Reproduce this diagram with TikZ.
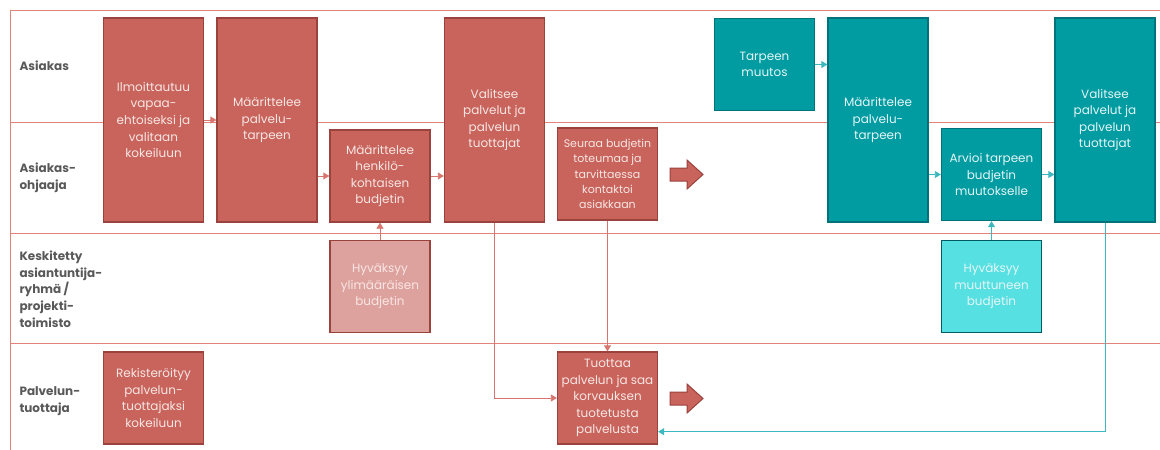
\documentclass[tikz,border=0pt]{standalone}
\usepackage{fontspec}
\setmainfont{Poppins}
\usetikzlibrary{arrows.meta, calc}

\definecolor{redfill}{HTML}{C8645C}
\definecolor{redborder}{HTML}{9C423C}
\definecolor{redline}{HTML}{D8756E}
\definecolor{lanecol}{HTML}{E2827B}
\definecolor{lightred}{HTML}{DEA29E}
\definecolor{redtext}{HTML}{F8E6E4}
\definecolor{tealfill}{HTML}{009CA2}
\definecolor{tealborder}{HTML}{00727A}
\definecolor{lightteal}{HTML}{56E0E2}
\definecolor{tealline}{HTML}{3DB8BE}
\definecolor{tealtext}{HTML}{E4F6F6}
\definecolor{labelgray}{HTML}{595959}

\tikzset{
    box/.style={line width=1.3pt, align=center, inner sep=1pt, minimum width=100,
        font=\fontsize{12}{16.6}\selectfont},
    redbox/.style={box, draw=redborder, fill=redfill, text=redtext},
    paleredbox/.style={box, draw=redborder, fill=lightred, text=redtext},
    tealbox/.style={box, draw=tealborder, fill=tealfill, text=tealtext},
    paletealbox/.style={box, draw=tealborder!80!black, fill=lightteal, text=tealtext},
    tall/.style={minimum height=204},
    short/.style={minimum height=92},
    lane/.style={draw=lanecol, line width=0.8pt},
    lanelabel/.style={anchor=west, align=left, text=labelgray,
        font=\bfseries\fontsize{12}{16.7}\selectfont},
    redarrow/.style={draw=redline, line width=0.8pt, -{Triangle[length=6pt,width=7pt]}},
    tealarrow/.style={draw=tealline, line width=0.8pt, -{Triangle[length=6pt,width=7pt]}},
    bigarrow/.style={draw=redborder, fill=redfill, line width=1pt, line join=miter}
}

\begin{document}
\begin{tikzpicture}[x=1pt,y=-1pt]

    \useasboundingbox (0,0) rectangle (1160,450);

    \draw[lane] (1160,10) -- (10,10) -- (10,450);
    \foreach \y in {122,233,343}
        \draw[lane] (10,\y) -- (1160,\y);

    \node (l1) [lanelabel] at (16,66) {Asiakas};
    \node (l2) [lanelabel] at (16,178) {Asiakas-\\ohjaaja};
    \node (l3) [lanelabel] at (16,289) {Keskitetty\\asiantuntija-\\ryhmä /\\projekti-\\toimisto};
    \node (l4) [lanelabel] at (16,401) {Palvelun-\\tuottaja};

    \node (ilmo) [redbox, tall] at (153.5,120) {Ilmoittautuu\\vapaa-\\ehtoiseksi ja\\valitaan\\kokeiluun};
    \node (maar) [redbox, tall] at (267,120) {Määrittelee\\palvelu-\\tarpeen};
    \node (henk) [redbox, short] at (380,176) {Määrittelee\\henkilö-\\kohtaisen\\budjetin};
    \node (valitse) [redbox, tall] at (494.5,120) {Valitsee\\palvelut ja\\palvelun\\tuottajat};
    \node (seuraa) [redbox, short, font=\fontsize{11}{15.2}\selectfont] at (607.5,174) {Seuraa budjetin\\toteumaa ja\\tarvittaessa\\kontaktoi\\asiakkaan};
    \node (hyvred) [paleredbox, short] at (380,286.5) {Hyväksyy\\ylimääräisen\\budjetin};
    \node (rekist) [redbox, short] at (153.5,398) {Rekisteröityy\\palvelun-\\tuottajaksi\\kokeiluun};
    \node (tuottaa) [redbox, short] at (607.5,398) {Tuottaa\\palvelun ja saa\\korvauksen\\tuotetusta\\palvelusta};

    \node (muutos) [tealbox, short] at (764.5,64.5) {Tarpeen\\muutos};
    \node (maarT) [tealbox, tall] at (878,120) {Määrittelee\\palvelu-\\tarpeen};
    \node (arvioi) [tealbox, short] at (991.5,174.5) {Arvioi tarpeen\\budjetin\\muutokselle};
    \node (valitseT) [tealbox, tall] at (1105,120) {Valitsee\\palvelut ja\\palvelun\\tuottajat};
    \node (hyvteal) [paletealbox, short] at (991.5,286.5) {Hyväksyy\\muuttuneen\\budjetin};

    \draw[bigarrow] (670,168) -- (687,168) -- (687,160) -- (703,174.5) -- (687,189) -- (687,181) -- (670,181) -- cycle;
    \draw[bigarrow] (670,392) -- (687,392) -- (687,384) -- (703,398.5) -- (687,413) -- (687,405) -- (670,405) -- cycle;

    \draw[redarrow] (ilmo) -- (maar);
    \draw[redarrow] (maar.east |- henk.west) -- (henk.west);
    \draw[redarrow] (henk.east) -- (valitse.west |- henk.east);
    \draw[redarrow] (hyvred) -- (henk);
    \draw[redarrow] (valitse.south) |- (tuottaa.west);
    \draw[redarrow] (seuraa) -- (tuottaa);

    \coordinate (paluu) at ([yshift=13pt]tuottaa.south east);
    \draw[tealarrow] (muutos.east) -- (maarT.west |- muutos.east);
    \draw[tealarrow] (maarT.east |- arvioi.west) -- (arvioi.west);
    \draw[tealarrow] (arvioi.east) -- (valitseT.west |- arvioi.east);
    \draw[tealarrow] (hyvteal) -- (arvioi);
    \draw[tealarrow] (valitseT.south) |- (paluu);

\end{tikzpicture}
\end{document}
